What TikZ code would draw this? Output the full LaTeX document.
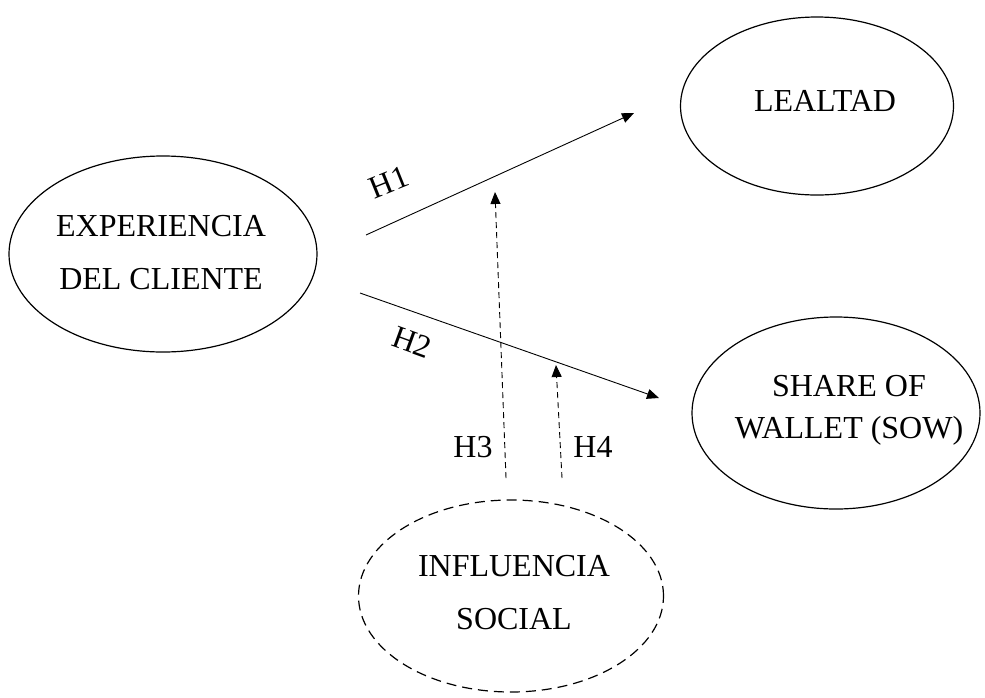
\documentclass[tikz,border=0pt]{standalone}
\usepackage{fontspec}
\setmainfont{Liberation Serif}
\usetikzlibrary{shapes.geometric,arrows.meta}
\begin{document}
\begin{tikzpicture}[x=1pt,y=-1pt,
  construct/.style={draw,ellipse,line width=1.2pt,inner sep=0pt,align=center,font=\fontsize{32}{53}\selectfont},
  link/.style={line width=0.9pt,-{Triangle[length=12pt,width=10pt]}},
  modlink/.style={line width=0.9pt,dash pattern=on 6pt off 4pt,-{Triangle[length=12pt,width=10pt]}},
  hlabel/.style={font=\fontsize{32}{36}\selectfont,inner sep=0pt},
  ctext/.style={align=center,inner sep=0pt}]
\useasboundingbox (0,0) rectangle (985,697);
\node[construct,minimum width=308pt,minimum height=196pt] (exp) at (163,254) {};
\node[ctext,font=\fontsize{32}{53}\selectfont] (expt) at (161,253) {EXPERIENCIA\\DEL CLIENTE};
\node[construct,minimum width=273pt,minimum height=178pt] (leal) at (817,106) {};
\node[ctext,font=\fontsize{32}{40}\selectfont] (lealt) at (825,101) {LEALTAD};
\node[construct,minimum width=288pt,minimum height=192pt] (sow) at (836,413) {};
\node[ctext,font=\fontsize{32}{42}\selectfont] (sowt) at (849,410) {SHARE OF\\WALLET (SOW)};
\node[construct,dash pattern=on 10pt off 6pt,minimum width=305pt,minimum height=192pt] (inf) at (511,596) {};
\node[ctext,font=\fontsize{32}{53}\selectfont] (inft) at (514,593) {INFLUENCIA\\SOCIAL};
\coordinate (h1s) at (366,235);
\coordinate (h1e) at (634,113);
\coordinate (h2s) at (360,293);
\coordinate (h2e) at (659,398);
\coordinate (h3s) at (506,478);
\coordinate (h3e) at (495,192);
\coordinate (h4s) at (562,478);
\coordinate (h4e) at (556,365);
\draw[link] (h1s) -- (h1e);
\draw[link] (h2s) -- (h2e);
\draw[modlink] (h3s) -- (h3e);
\draw[modlink] (h4s) -- (h4e);
\node[hlabel,rotate=22] (l1) at (389,182) {H1};
\node[hlabel,rotate=-20] (l2) at (412,342) {H2};
\node[hlabel] (l3) at (473,447) {H3};
\node[hlabel] (l4) at (593,447) {H4};
\end{tikzpicture}
\end{document}
